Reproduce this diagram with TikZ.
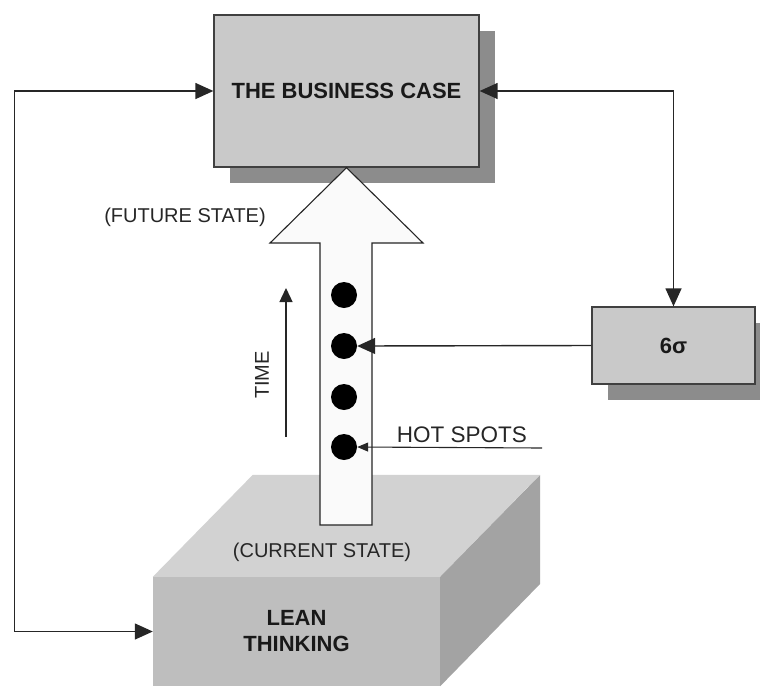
\documentclass[tikz,border=0pt]{standalone}
\usepackage{fontspec}
\setmainfont{Liberation Sans}
\usetikzlibrary{arrows.meta,shadows}
\definecolor{boxgray}{RGB}{201,201,201}
\definecolor{shadowgray}{RGB}{140,140,140}
\definecolor{topgray}{RGB}{210,210,210}
\definecolor{frontgray}{RGB}{190,190,190}
\definecolor{sidegray}{RGB}{163,163,163}
\definecolor{arrowwhite}{RGB}{250,250,250}

\begin{document}
\begin{tikzpicture}[x=1pt,y=-1pt,
	box/.style={draw=black!75,line width=1.3pt,fill=boxgray,inner sep=0pt,text=black!90,
		font=\bfseries\fontsize{22}{26}\selectfont,
		drop shadow={shadow xshift=16pt,shadow yshift=-16pt,fill=shadowgray,opacity=1}},
	link/.style={line width=1.4pt,draw=black!85,>={Triangle[length=18pt,width=16pt]}},
	thin link/.style={line width=1.1pt,draw=black!85,>={Triangle[length=11pt,width=9pt]}},
	time link/.style={line width=1.3pt,draw=black!85,>={Triangle[length=14pt,width=13pt]}},
	lbl/.style={inner sep=0pt,text=black!85,font=\fontsize{20}{24}\selectfont},
	spot/.style={circle,fill=black,minimum size=26pt,inner sep=0pt}]
	\useasboundingbox (0,0) rectangle (760,686);
	\clip (0,0) rectangle (760,686);
	\node[fill=frontgray,minimum width=287pt,minimum height=109pt,inner sep=0pt,align=center,
		font=\bfseries\fontsize{22}{26}\selectfont,text=black!90] (lean) at (296.5,631.5) {LEAN\\THINKING};
	\fill[topgray] (lean.north west) -- ++(100,-102) -- ++(287,0) -- (lean.north east) -- cycle;
	\fill[sidegray] (lean.north east) -- ++(100,-102) -- ++(0,109) -- (lean.south east) -- cycle;
	\node[box,minimum width=265pt,minimum height=152pt] (biz) at (346.5,91) {THE BUSINESS CASE};
	\node[box,minimum width=163pt,minimum height=77pt] (sig) at (673.5,345.5) {6σ};
	\filldraw[fill=arrowwhite,draw=black!85,line width=1.1pt] (320,525) -- (320,243) -- (270,243) -- (biz.south)
		-- (423,243) -- (372,243) -- (372,525) -- cycle;
	\foreach \i/\y in {1/295,2/346,3/397,4/447}
		\node[spot] (d\i) at (344,\y) {};
	\node[lbl] (future) at (185,217) {(FUTURE STATE)};
	\node[lbl] (current) at (322,552) {(CURRENT STATE)};
	\node[lbl,rotate=90] (time) at (262,375) {TIME};
	\node[lbl,font=\fontsize{22.5}{26}\selectfont] (hot) at (462,435) {HOT SPOTS};
	\coordinate (tbot) at (286,437);
	\coordinate (ttop) at (286,288);
	\coordinate (hs) at (542,448);
	\draw[link,<->] (biz.west) -- ++(-199,0) |- (lean.west);
	\draw[link,<->] (biz.east) -| (sig.north);
	\draw[link,->] (sig.west) -- (d2.east);
	\draw[thin link,->] (hs) -- (d4.east);
	\draw[time link,->] (tbot) -- (ttop);
\end{tikzpicture}
\end{document}
